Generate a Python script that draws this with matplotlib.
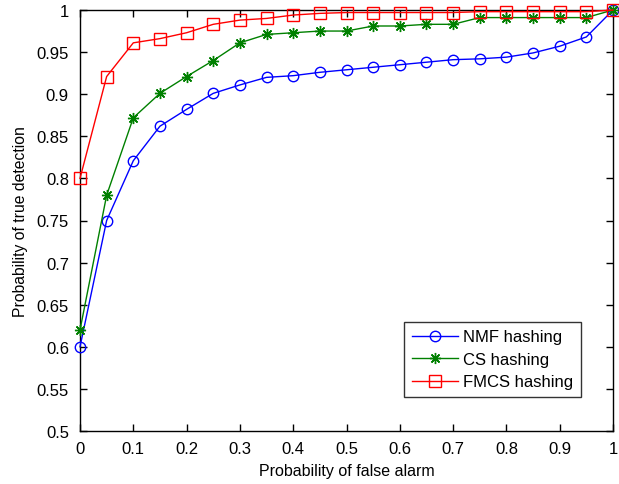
import matplotlib
matplotlib.use("Agg")
import matplotlib.pyplot as plt
import numpy as np

plt.rcParams['font.family'] = ['Liberation Sans', 'DejaVu Sans']

pfa = [0.0, 0.05, 0.1, 0.15, 0.2, 0.25, 0.3, 0.35, 0.4, 0.45, 0.5,
       0.55, 0.6, 0.65, 0.7, 0.75, 0.8, 0.85, 0.9, 0.95, 1.0]
nmf = [0.60, 0.75, 0.821, 0.862, 0.882, 0.901, 0.911, 0.920, 0.922, 0.926, 0.929,
       0.932, 0.935, 0.938, 0.941, 0.942, 0.944, 0.949, 0.957, 0.968, 1.0]
cs = [0.62, 0.78, 0.872, 0.901, 0.921, 0.940, 0.961, 0.971, 0.973, 0.975, 0.975,
      0.981, 0.981, 0.983, 0.983, 0.991, 0.991, 0.991, 0.991, 0.991, 1.0]
fmcs = [0.80, 0.921, 0.961, 0.966, 0.973, 0.983, 0.988, 0.990, 0.994, 0.996, 0.997,
        0.997, 0.997, 0.997, 0.997, 0.998, 0.998, 0.998, 0.998, 0.998, 1.0]

xticks = [0, 0.1, 0.2, 0.3, 0.4, 0.5, 0.6, 0.7, 0.8, 0.9, 1]
xticklabels = ['0', '0.1', '0.2', '0.3', '0.4', '0.5', '0.6', '0.7', '0.8', '0.9', '1']
yticks = [0.5, 0.55, 0.6, 0.65, 0.7, 0.75, 0.8, 0.85, 0.9, 0.95, 1]
yticklabels = ['0.5', '0.55', '0.6', '0.65', '0.7', '0.75', '0.8', '0.85', '0.9', '0.95', '1']

fig = plt.figure(figsize=(6.19, 4.85), dpi=100)
ax = fig.add_axes([80/619, (485-432)/485, (613-80)/619, (432-11)/485])

ax.plot(pfa, nmf, color=(0, 0, 1), marker='o', markersize=7.5, markerfacecolor='none',
        markeredgecolor=(0, 0, 1), linewidth=1, label='NMF hashing', clip_on=False, zorder=3)
ax.plot(pfa, cs, color=(0, 0.5, 0), marker=(8, 2, 0), markersize=8, markerfacecolor=(0, 0.5, 0),
        markeredgecolor=(0, 0.5, 0), markeredgewidth=1, linewidth=1, label='CS hashing',
        clip_on=False, zorder=4)
ax.plot(pfa, fmcs, color=(1, 0, 0), marker='s', markersize=8, markerfacecolor='none',
        markeredgecolor=(1, 0, 0), linewidth=1, label='FMCS hashing', clip_on=False, zorder=5)

ax.set_xlim(0, 1)
ax.set_ylim(0.5, 1)
ax.set_xticks(xticks)
ax.set_xticklabels(xticklabels)
ax.set_yticks(yticks)
ax.set_yticklabels(yticklabels)
ax.tick_params(direction='in', top=True, right=True, length=5, width=1, labelsize=12)
ax.tick_params(axis='y', pad=8)
ax.tick_params(axis='x', pad=7)
for s in ax.spines.values():
    s.set_linewidth(1)
    s.set_color('black')

ax.set_xlabel('Probability of false alarm', fontsize=11.5, labelpad=5)
ax.set_ylabel('Probability of true detection', fontsize=11.3, labelpad=6)

leg = ax.legend(loc='lower right', bbox_to_anchor=(0.94, 0.081), fontsize=12, frameon=True,
                fancybox=False, edgecolor='black', handlelength=2.8, borderpad=0.45,
                labelspacing=0.45, handletextpad=0.3, borderaxespad=0)
leg.get_frame().set_linewidth(1)

fig.savefig('out.png', dpi=100)
